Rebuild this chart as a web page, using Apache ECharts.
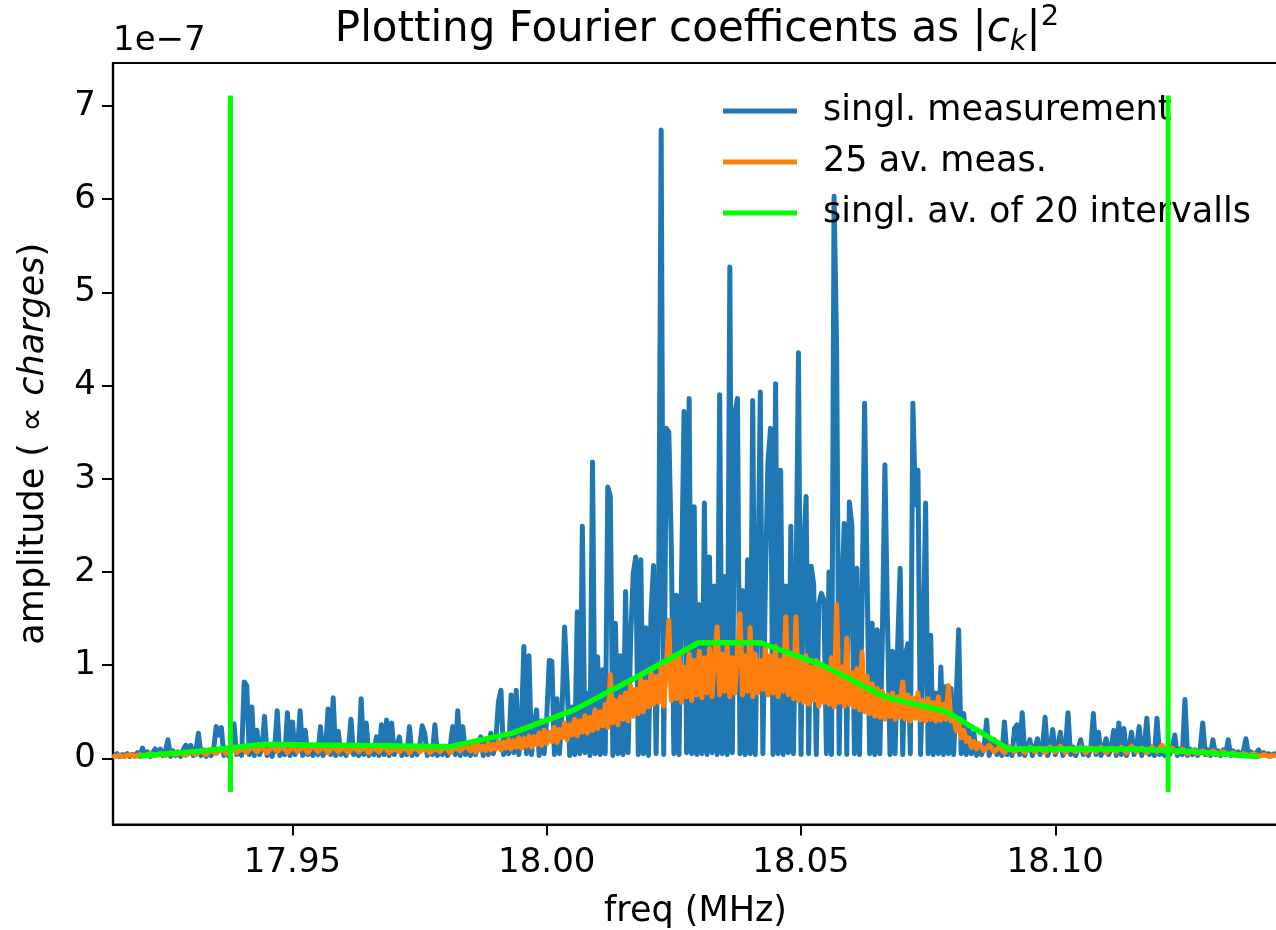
<!DOCTYPE html>
<html><head><meta charset="utf-8">
<script src="https://cdn.jsdelivr.net/npm/echarts@6/dist/echarts.min.js"></script>
<style>html,body{margin:0;padding:0;background:#fff}#c{width:1276px;height:930px}</style>
</head><body><div id="c"></div>
<script>
// ---- data (amplitudes in units of 1e-7) ----
const seriesNames = ['singl. measurement', '25 av. meas.', 'singl. av. of 20 intervalls'];
const blueStart = 17.915, blueStep = 0.0005;   // FFT bin grid (MHz)
const blueAmp = [
0.03,0.05,0.02,0.04,0.03,0.05,0.02,0.04,0.03,0.06,
0.02,0.11,0.03,0.07,0.02,0.06,0.10,0.04,0.10,0.03,
0.07,0.20,0.02,0.08,0.03,0.07,0.02,0.09,0.14,0.05,
0.14,0.03,0.08,0.27,0.03,0.09,0.02,0.08,0.03,0.10,
0.34,0.25,0.33,0.03,0.09,0.02,0.10,0.37,0.04,0.10,
0.03,0.82,0.78,0.04,0.55,0.03,0.30,0.04,0.10,0.45,
0.03,0.10,0.02,0.12,0.51,0.03,0.10,0.04,0.49,0.03,
0.39,0.04,0.11,0.51,0.03,0.30,0.04,0.10,0.03,0.12,
0.04,0.34,0.03,0.10,0.53,0.04,0.65,0.03,0.29,0.04,
0.11,0.03,0.10,0.42,0.04,0.12,0.03,0.64,0.04,0.38,
0.03,0.11,0.04,0.23,0.03,0.36,0.04,0.41,0.03,0.38,
0.04,0.12,0.23,0.03,0.10,0.04,0.34,0.03,0.11,0.04,
0.12,0.35,0.27,0.03,0.11,0.04,0.36,0.03,0.12,0.04,
0.13,0.03,0.12,0.34,0.04,0.51,0.03,0.34,0.04,0.14,
0.03,0.16,0.04,0.15,0.23,0.03,0.18,0.04,0.27,0.05,
0.20,0.61,0.73,0.04,0.25,0.05,0.68,0.06,0.73,0.04,
0.30,1.20,0.05,1.10,0.04,0.35,0.52,0.03,0.40,0.05,
0.45,1.05,1.04,0.04,0.64,0.05,0.50,1.41,0.82,0.03,
0.55,0.04,1.57,0.05,2.49,0.06,0.70,0.03,3.18,0.05,
1.09,0.04,0.95,0.05,2.91,2.81,0.03,1.45,0.05,1.10,
0.04,1.79,0.06,1.30,1.98,2.16,0.04,2.13,0.05,1.40,
0.03,1.55,2.07,0.05,1.70,6.74,0.04,3.54,3.50,2.27,
0.05,1.75,0.04,1.90,3.72,0.06,3.86,0.05,2.70,0.04,
1.65,0.05,2.74,0.04,2.16,0.06,1.85,0.04,3.90,0.05,
1.95,0.04,5.27,0.06,3.70,3.86,0.05,1.80,0.04,2.13,
0.05,3.84,0.04,1.75,3.93,0.05,1.90,3.18,3.54,0.04,
4.02,0.05,3.09,0.04,1.85,0.06,2.49,0.05,1.70,4.35,
0.04,2.22,2.81,0.05,2.06,1.86,0.04,1.65,1.77,1.70,
0.05,2.00,0.04,6.03,4.40,0.05,1.75,2.52,0.04,2.75,
2.50,0.05,2.04,0.04,1.60,3.81,1.93,0.05,1.45,0.04,
1.38,0.05,1.30,3.15,1.48,0.04,1.15,0.05,1.20,2.04,
0.04,1.10,1.23,0.05,3.81,2.72,3.09,0.04,1.05,2.74,
0.05,1.32,0.04,0.70,0.05,0.98,0.04,0.77,0.05,0.75,
0.04,0.60,1.38,0.05,0.48,0.04,0.35,0.05,0.27,0.03,
0.15,0.04,0.12,0.41,0.03,0.12,0.20,0.04,0.11,0.03,
0.39,0.04,0.12,0.03,0.32,0.36,0.04,0.49,0.03,0.11,
0.20,0.03,0.11,0.21,0.04,0.12,0.44,0.03,0.11,0.31,
0.04,0.12,0.28,0.03,0.11,0.49,0.04,0.12,0.03,0.10,
0.20,0.04,0.11,0.03,0.12,0.48,0.04,0.28,0.03,0.11,
0.21,0.04,0.12,0.30,0.03,0.38,0.04,0.32,0.03,0.11,
0.28,0.04,0.12,0.34,0.03,0.11,0.43,0.04,0.12,0.03,
0.43,0.04,0.11,0.03,0.10,0.04,0.11,0.25,0.03,0.10,
0.04,0.63,0.03,0.10,0.04,0.09,0.03,0.10,0.38,0.04,
0.09,0.03,0.20,0.04,0.08,0.03,0.09,0.04,0.20,0.03,
0.08,0.04,0.07,0.03,0.08,0.21,0.03,0.07,0.04,0.06,
0.09,0.03,0.06,0.04,0.05,0.03,0.05,0.04
];
// 25-fold averaged spectrum: coarse outer parts, finer central part
const orangeLeftStart = 17.915, orangeLeftStep = 0.001;
const orangeLeft = [
0.02,0.03,0.02,0.04,0.02,0.04,0.03,0.05,0.03,0.05,
0.03,0.06,0.04,0.06,0.03,0.07,0.04,0.08,0.04,0.09,
0.05,0.10,0.05,0.12,0.06,0.11,0.06,0.13,0.07,0.12,
0.06,0.13,0.07,0.14,0.06,0.12,0.07,0.13,0.06,0.14,
0.07,0.12,0.06,0.13,0.07,0.12,0.06,0.13,0.07,0.12,
0.06,0.12,0.07,0.13,0.06,0.11,0.07,0.12,0.06,0.12,
0.07,0.12,0.06,0.11,0.07,0.13,0.06,0.12,0.08,0.14
];
const orangeMidStart = 17.985, orangeMidStep = 0.0005;
const orangeMid = [
0.08,0.14,0.07,0.15,0.09,0.13,0.08,0.16,0.09,0.15,
0.10,0.18,0.09,0.17,0.11,0.20,0.10,0.19,0.12,0.22,
0.11,0.21,0.13,0.24,0.12,0.23,0.15,0.27,0.14,0.30,
0.16,0.28,0.18,0.33,0.17,0.31,0.22,0.38,0.20,0.36,
0.25,0.42,0.24,0.40,0.28,0.46,0.27,0.44,0.30,0.52,
0.32,0.50,0.35,0.58,0.33,0.90,0.38,0.62,0.36,0.66,
0.42,0.70,0.40,0.78,0.45,0.74,0.48,0.85,0.50,0.82,
0.55,0.92,0.58,0.88,0.60,1.00,0.56,0.95,1.48,0.62,
1.05,0.64,1.10,0.60,0.98,0.66,1.12,0.62,1.05,0.68,
1.15,0.65,1.08,0.70,1.18,0.66,1.10,1.41,0.68,1.12,
0.72,1.20,0.66,1.08,0.70,1.15,1.55,0.68,1.10,0.72,
1.40,0.66,1.12,0.70,1.05,0.74,1.18,0.68,1.10,0.70,
1.20,0.66,1.05,0.72,1.52,0.68,1.12,0.64,1.52,0.62,
1.05,0.60,1.10,0.58,0.98,0.62,1.05,0.56,1.00,0.60,
0.95,0.58,1.08,0.55,1.65,0.60,0.98,0.56,1.29,0.58,
0.92,0.55,0.96,0.52,1.14,0.50,0.88,0.48,0.80,0.45,
0.75,0.44,0.72,0.42,0.68,0.45,0.70,0.42,0.66,0.44,
0.82,0.42,0.68,0.40,0.65,0.43,0.70,0.41,0.62,0.40,
0.64,0.42,0.60,0.40,0.66,0.41,0.58,0.42,0.78,0.40,
0.45,0.30,0.38,0.22,0.30,0.18,0.22,0.12,0.18,0.10
];
const orangeRightStart = 18.085, orangeRightStep = 0.001;
const orangeRight = [
0.16,0.08,0.14,0.07,0.12,0.06,0.12,0.07,0.11,0.06,
0.12,0.07,0.11,0.06,0.12,0.07,0.13,0.06,0.11,0.07,
0.12,0.06,0.11,0.07,0.12,0.06,0.11,0.07,0.12,0.06,
0.13,0.07,0.11,0.06,0.12,0.07,0.14,0.06,0.11,0.06,
0.10,0.05,0.09,0.05,0.08,0.04,0.08,0.04,0.07,0.04,
0.06,0.03,0.05,0.03,0.05,0.02,0.04,0.02,0.03
];
const greenFreq = [17.9201,17.9323,17.9445,17.9566,17.9688,17.9810,17.9932,18.0054,18.0176,18.0298,
                   18.0420,18.0542,18.0664,18.0786,18.0908,18.1029,18.1151,18.1273,18.1395];
const greenAmp  = [0.025,0.08,0.15,0.14,0.135,0.125,0.27,0.52,0.87,1.24,
                   1.24,1.00,0.66,0.50,0.10,0.10,0.10,0.07,0.02];
const markerFreq = [17.9378, 18.1222];
const markerRange = [-0.36, 7.11];
const xTicks = [17.95, 18.00, 18.05, 18.10];
const yTicks = [0, 1, 2, 3, 4, 5, 6, 7];
const xRange = [17.9147, 18.1438];
const yRange = [-0.71, 7.46];

// ---- build ----
const F = "'DejaVu Sans', sans-serif";
const onGrid = (arr, start, step) => arr.map((v, i) => [start + i * step, v]);
const blueData = onGrid(blueAmp, blueStart, blueStep);
const orangeData = onGrid(orangeLeft, orangeLeftStart, orangeLeftStep)
  .concat(onGrid(orangeMid, orangeMidStart, orangeMidStep))
  .concat(onGrid(orangeRight, orangeRightStart, orangeRightStep));
const greenData = greenFreq.map((f, i) => [f, greenAmp[i]]);
const LW = 5;

const chart = echarts.init(document.getElementById('c'), null, {renderer: 'canvas'});
const markerSeries = markerFreq.map((f, k) => ({
  name: 'marker' + k, type: 'line', data: [[f, markerRange[0]], [f, markerRange[1]]],
  symbol: 'none', color: '#00ff00', z: 6,
  lineStyle: {width: 5, color: '#00ff00', cap: 'butt'}
}));

chart.setOption({
  animation: false,
  backgroundColor: '#fff',
  grid: {left: 113, top: 63, width: 1165, height: 761.5, show: true, borderColor: '#000', borderWidth: 2.2,
         backgroundColor: 'transparent', containLabel: false, outerBoundsMode: 'none'},
  xAxis: {
    type: 'value', min: xRange[0], max: xRange[1],
    name: 'freq (MHz)', nameLocation: 'middle', nameGap: 70,
    nameTextStyle: {fontSize: 35, fontFamily: F, color: '#000'},
    axisLine: {show: true, onZero: false, lineStyle: {color: '#000', width: 2.2}},
    axisTick: {show: true, length: 11, lineStyle: {color: '#000', width: 2}, customValues: xTicks},
    axisLabel: {fontSize: 34, fontFamily: F, color: '#000', margin: 22, customValues: xTicks,
                formatter: v => v.toFixed(2)},
    splitLine: {show: false}
  },
  yAxis: {
    type: 'value', min: yRange[0], max: yRange[1],
    name: 'amplitude ( ∝ {i|charges})', nameLocation: 'middle', nameRotate: 90, nameGap: 62,
    nameTextStyle: {fontSize: 35, fontFamily: F, color: '#000',
      rich: {i: {fontSize: 35, fontFamily: F, fontStyle: 'italic', color: '#000'}}},
    axisLine: {show: true, onZero: false, lineStyle: {color: '#000', width: 2.2}},
    axisTick: {show: true, length: 11, lineStyle: {color: '#000', width: 2}, customValues: yTicks},
    axisLabel: {fontSize: 34, fontFamily: F, color: '#000', margin: 17, customValues: yTicks,
                formatter: v => String(Math.round(v))},
    splitLine: {show: false}
  },
  legend: {
    data: seriesNames.map(n => ({name: n, icon: 'rect'})),
    orient: 'vertical', left: 723, top: 93.5, padding: 0,
    itemWidth: 74, itemHeight: 5, itemGap: 16, selectedMode: false,
    textStyle: {fontSize: 35, fontFamily: F, color: '#000', padding: [0, 0, 0, 21]}
  },
  graphic: [
    {type: 'text', x: 697, y: 30, z: 10,
     style: {text: 'Plotting Fourier coefficents as |{c|c}{k|k}|{s|2}', align: 'center', verticalAlign: 'middle',
       fontSize: 42, fontFamily: F, fill: '#000', lineHeight: 54,
       rich: {
         c: {fontSize: 42, fontFamily: F, fontStyle: 'italic', lineHeight: 54},
         k: {fontSize: 29, fontFamily: F, fontStyle: 'italic', lineHeight: 29, verticalAlign: 'bottom'},
         s: {fontSize: 29, fontFamily: F, lineHeight: 29, verticalAlign: 'top'}
       }}},
    {type: 'text', x: 113, y: 41, z: 10,
     style: {text: '1e\u22127', align: 'left', verticalAlign: 'middle', fontSize: 34, fontFamily: F, fill: '#000'}}
  ],
  series: [
    {name: seriesNames[0], type: 'line', data: blueData, symbol: 'none', color: '#1f77b4', z: 2,
     sampling: null, lineStyle: {width: LW, color: '#1f77b4', cap: 'round', join: 'round'}},
    {name: seriesNames[1], type: 'line', data: orangeData, symbol: 'none', color: '#ff7f0e', z: 3,
     lineStyle: {width: LW, color: '#ff7f0e', cap: 'round', join: 'round'}},
    {name: seriesNames[2], type: 'line', data: greenData, symbol: 'none', color: '#00ff00', z: 4,
     lineStyle: {width: LW + 0.5, color: '#00ff00', cap: 'round', join: 'round'}}
  ].concat(markerSeries)
});
</script></body></html>
